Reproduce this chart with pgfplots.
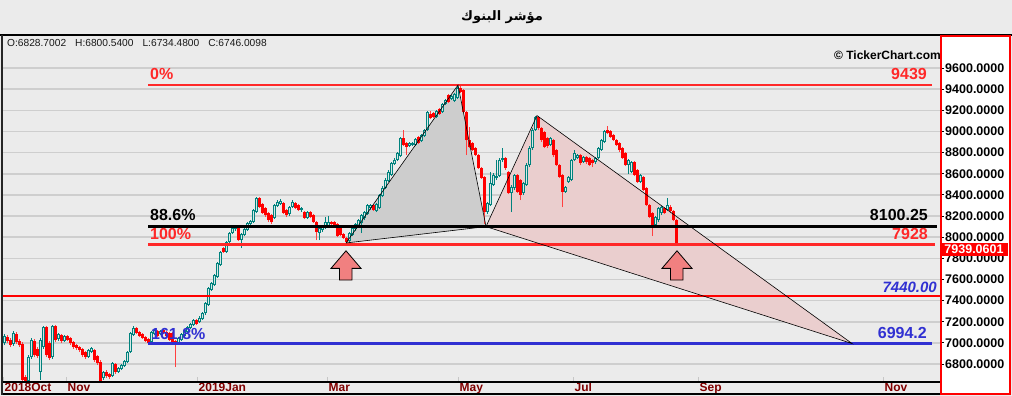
\documentclass[border=0pt]{standalone}
\usepackage{pgfplots}
\pgfplotsset{compat=1.18}
\usepackage{pgfplotstable}
\usepackage{fontspec}
\setmainfont{Liberation Sans}
\newfontfamily\arabicfont[Script=Arabic]{DejaVu Sans}
\TeXXeTstate=1
\definecolor{bgc}{RGB}{235,235,235}
\definecolor{gridc}{RGB}{206,206,206}
\definecolor{upc}{RGB}{0,130,125}
\definecolor{dnc}{RGB}{255,0,0}
\definecolor{lvred}{RGB}{255,40,40}
\definecolor{lvblue}{RGB}{48,48,210}
\definecolor{ticklab}{RGB}{128,0,0}
\definecolor{greyfill}{RGB}{205,205,205}
\definecolor{pinkfill}{RGB}{234,206,206}
\definecolor{arrowc}{RGB}{241,128,128}
\definecolor{hollow}{RGB}{214,232,230}
\pgfplotsset{candle/.style 2 args={forget plot, draw=none, no markers,
  error bars/.cd, y dir=plus, y explicit, error mark=none,
  error bar style={draw=#1, line width=#2}}}

\pgfplotstableread{
x o h l c
4 6998 7083 6979 7064
13 6989 7112 6970 7093
28 6639 6885 6630 6866
31 6866 7045 6847 7027
40 6724 7045 6648 7027
43 6960 7159 6941 7150
52 6866 7169 6847 7159
58 7036 7093 7017 7083
64 7017 7074 7008 7064
88 6866 6941 6856 6932
91 6913 6960 6904 6951
103 6667 6733 6648 6724
112 6686 6818 6676 6809
118 6724 6771 6714 6762
121 6752 6800 6743 6790
124 6781 6837 6771 6828
127 6818 6923 6809 6913
130 6913 7102 6904 7093
133 7074 7159 7064 7140
151 7008 7112 6998 7102
154 7083 7131 7074 7121
160 7083 7121 7074 7112
178 6998 7055 6989 7045
181 7027 7093 7017 7083
184 7064 7131 7055 7121
187 7102 7159 7093 7150
190 7140 7187 7131 7178
193 7169 7225 7159 7216
199 7197 7254 7187 7235
202 7225 7292 7216 7282
205 7282 7386 7263 7377
208 7358 7528 7348 7519
211 7500 7575 7490 7566
214 7547 7651 7537 7642
217 7623 7765 7613 7755
220 7736 7869 7727 7859
226 7859 7963 7850 7954
229 7954 8048 7944 8039
232 8039 8105 8029 8086
235 8077 8115 8058 8105
241 7973 8039 7897 8029
244 8020 8086 8010 8077
247 8067 8143 8058 8133
250 8124 8162 8115 8152
253 8143 8266 8133 8257
256 8238 8379 8228 8370
274 8181 8313 8171 8304
277 8294 8351 8285 8332
280 8313 8360 8304 8342
289 8219 8294 8200 8285
292 8285 8351 8275 8332
301 8257 8285 8238 8275
307 8181 8247 8171 8238
319 8039 8105 7973 8086
322 8067 8115 8048 8095
325 8086 8190 8077 8143
328 8105 8200 8086 8143
349 7963 8048 7944 8039
352 8020 8095 8010 8086
355 8077 8133 8058 8124
358 8105 8171 8095 8162
361 8133 8219 8039 8209
364 8181 8247 8162 8238
367 8219 8313 8209 8304
370 8275 8313 8257 8304
376 8247 8323 8238 8313
379 8275 8408 8266 8398
382 8389 8483 8379 8465
385 8465 8559 8455 8540
388 8531 8635 8521 8616
391 8588 8711 8578 8701
394 8692 8748 8682 8730
397 8730 8805 8720 8796
400 8767 8947 8758 8937
409 8862 8900 8852 8890
412 8871 8900 8862 8890
415 8871 8937 8862 8928
421 8909 8975 8900 8966
424 8956 9023 8947 9013
427 9013 9193 9004 9184
436 9136 9203 9127 9193
442 9184 9269 9174 9259
445 9259 9306 9250 9297
451 9306 9344 9297 9335
454 9288 9363 9278 9354
457 9316 9439 9306 9411
487 8238 8332 8219 8323
490 8304 8616 8294 8512
493 8493 8606 8483 8588
496 8559 8730 8540 8578
499 8578 8748 8569 8730
502 8730 8843 8711 8748
511 8417 8493 8238 8474
514 8465 8597 8446 8588
523 8417 8521 8398 8512
526 8493 8701 8483 8682
529 8682 8862 8663 8843
532 8843 9032 8824 9013
535 9013 9146 9004 9136
550 8871 8947 8862 8937
565 8427 8483 8417 8474
568 8521 8578 8512 8569
571 8540 8739 8531 8730
574 8730 8824 8720 8796
577 8748 8786 8739 8777
583 8711 8767 8701 8758
595 8711 8758 8692 8748
598 8748 8852 8739 8843
601 8824 8928 8815 8919
604 8900 9013 8890 9004
628 8682 8739 8597 8730
631 8616 8720 8606 8711
640 8521 8597 8512 8588
655 8115 8200 8095 8190
658 8162 8285 8143 8275
661 8228 8294 8209 8285
667 8257 8370 8247 8304
}\upcandles

\pgfplotstableread{
x o h l c
7 7055 7074 6998 7017
10 7027 7045 6960 6979
16 7083 7102 6989 7008
19 7017 7036 6960 6979
22 6989 7008 6630 6648
25 6676 6695 6630 6639
34 7017 7036 6866 6885
37 6941 6960 6856 6875
46 7150 7159 6866 6885
49 6998 7017 6837 6856
55 7159 7169 7008 7027
61 7074 7083 6998 7017
67 7064 7074 7017 7027
70 7045 7055 6979 6998
73 7008 7017 6941 6960
76 6979 6989 6932 6951
79 6960 6970 6913 6932
82 6941 6951 6866 6885
85 6913 6923 6847 6866
94 6932 6941 6818 6837
97 6875 6885 6790 6809
100 6818 6837 6630 6635
106 6724 6743 6667 6686
109 6705 6714 6658 6676
115 6800 6809 6705 6724
136 7140 7150 7083 7093
139 7102 7112 7055 7064
142 7083 7093 7036 7045
145 7055 7064 7008 7017
148 7036 7045 6989 6998
157 7112 7121 7055 7064
163 7121 7131 7083 7093
166 7102 7112 7055 7064
169 7093 7102 7017 7027
172 7093 7102 6989 6998
175 7017 7027 6771 6998
196 7216 7225 7169 7178
223 7897 7906 7850 7859
238 8086 8095 7963 7973
259 8370 8379 8275 8285
262 8313 8323 8219 8228
265 8275 8285 8190 8209
268 8228 8238 8143 8162
271 8209 8219 8124 8143
283 8323 8332 8219 8228
286 8257 8266 8190 8209
295 8323 8332 8266 8275
298 8304 8313 8247 8257
304 8238 8247 8171 8181
310 8238 8247 8181 8190
313 8209 8219 8133 8143
316 8143 8152 7973 8048
331 8143 8152 8115 8124
334 8143 8152 8105 8115
337 8124 8133 8001 8010
340 8095 8105 8010 8020
343 8029 8039 7982 7991
346 7991 8001 7944 7954
373 8304 8313 8247 8257
403 8937 9013 8862 8871
406 8890 8900 8777 8852
418 8947 8956 8881 8890
430 9165 9193 9117 9127
433 9174 9184 9127 9136
439 9212 9221 9155 9165
448 9344 9354 9269 9278
460 9411 9439 9363 9373
463 9392 9401 9174 9184
466 9184 9193 8777 8919
469 8919 9042 8843 8852
472 8890 8900 8815 8824
475 8843 8852 8767 8777
478 8777 8786 8644 8654
481 8654 8663 8550 8559
484 8569 8578 8124 8238
505 8748 8758 8635 8654
508 8616 8625 8408 8417
517 8588 8597 8417 8427
520 8540 8550 8351 8398
538 9136 9146 9013 9032
541 9032 9042 8900 8919
544 8994 9004 8843 8852
547 8937 8947 8843 8862
553 8919 8928 8758 8777
556 8824 8833 8673 8682
559 8682 8692 8559 8569
562 8588 8597 8285 8427
580 8777 8786 8682 8701
586 8758 8767 8692 8711
589 8748 8758 8673 8682
592 8730 8739 8663 8701
607 9013 9051 8975 8985
610 9004 9013 8937 8947
613 8966 8975 8909 8919
616 8919 8928 8862 8871
619 8890 8900 8805 8824
622 8843 8852 8739 8748
625 8796 8805 8673 8682
634 8711 8720 8578 8588
637 8635 8644 8512 8521
643 8569 8578 8436 8446
646 8465 8474 8294 8304
649 8304 8313 8181 8190
652 8228 8238 8010 8095
664 8275 8285 8219 8228
670 8285 8304 8228 8247
673 8247 8257 8152 8162
676 8162 8171 7935 7944
}\downcandles

\begin{document}
\begin{tikzpicture}[x=1pt,y=1pt]
\path[use as bounding box] (0,0) rectangle (1012,396);
\fill[bgc] (0,0) rectangle (1012,396);
\fill[white] (941,1.5) rectangle (1010,359.5);
\begin{axis}[
  at={(3pt,14pt)}, anchor=south west, scale only axis,
  width=937pt, height=346pt,
  xmin=3, xmax=940, ymin=6630, ymax=9903, clip=false,
  axis background/.style={fill=bgc},
  axis line style={draw=none},
  ymajorgrids, major grid style={draw=gridc, line width=1.6pt},
  ytick={6800,7000,...,9600}, ytick pos=right, yticklabel pos=right,
  /pgf/number format/fixed, /pgf/number format/fixed zerofill,
  /pgf/number format/precision=4, /pgf/number format/1000 sep={},
  /pgf/number format/assume math mode=true,
  yticklabel style={anchor=west, inner sep=1pt, font=\fontsize{12.5}{14}\selectfont\bfseries, text=black},
  xtick={3,66,197,327,458,573,698,883},
  xticklabels={2018Oct,Nov,2019Jan,Mar,May,Jul,Sep,Nov},
  xtick pos=lower,
  xticklabel style={anchor=north west, inner sep=0pt, xshift=1.5pt, yshift=3pt, text=ticklab, font=\fontsize{12}{14}\selectfont\bfseries},
  tick align=outside, major tick length=4pt,
  every major x tick/.append style={draw=gray!45, line width=1pt, yshift=5pt},
  every major y tick/.append style={draw=black, line width=0.8pt},
]
% pattern fills
\addplot[forget plot, fill=greyfill, draw=none] coordinates {(346,7945) (458,9439) (486,8100)} -- cycle;
\addplot[forget plot, fill=pinkfill, draw=none] coordinates {(486,8100) (537,9150) (852,6994)} -- cycle;

% up candles: wicks, bodies, hollow interior
\addplot[candle={upc}{1pt}] table[x=x, y=l, y error expr=\thisrow{h}-\thisrow{l}] {\upcandles};
\addplot[candle={upc}{3pt}] table[x=x, y=o, y error expr=\thisrow{c}-\thisrow{o}] {\upcandles};
\addplot[candle={hollow}{0.9pt}] table[x=x, y expr=\thisrow{o}+10, y error expr={max(\thisrow{c}-\thisrow{o}-20,0)}] {\upcandles};
% down candles: wicks, bodies
\addplot[candle={dnc!75}{1pt}] table[x=x, y=l, y error expr=\thisrow{h}-\thisrow{l}] {\downcandles};
\addplot[candle={dnc}{3pt}] table[x=x, y=c, y error expr=\thisrow{o}-\thisrow{c}] {\downcandles};

% horizontal levels
\addplot[forget plot, lvred, line width=2.7pt] coordinates {(148,9439) (932,9439)};
\addplot[forget plot, black, line width=3pt] coordinates {(148,8100) (937,8100)};
\addplot[forget plot, lvred, line width=3pt] coordinates {(148,7928) (935,7928)};
\addplot[forget plot, red, line width=2pt] coordinates {(3,7440) (940,7440)};
\addplot[forget plot, lvblue, line width=3pt] coordinates {(148,6994.2) (932,6994.2)};

% pattern outlines
\addplot[forget plot, black, line width=0.6pt] coordinates {(346,7945) (458,9439) (486,8100) (346,7945)};
\addplot[forget plot, black, line width=0.6pt] coordinates {(486,8100) (537,9150) (852,6994) (486,8100)};

% arrows
\addplot[forget plot, fill=arrowc, draw=black, line width=0.8pt] coordinates {(346,7871) (331,7705) (339.5,7705) (339.5,7594) (352,7594) (352,7705) (361,7705)} -- cycle;
\addplot[forget plot, fill=arrowc, draw=black, line width=0.8pt] coordinates {(677,7871) (662,7705) (670.5,7705) (670.5,7594) (683,7594) (683,7705) (692,7705)} -- cycle;

% level labels
\node[anchor=west, text=lvred, font=\fontsize{16}{18}\selectfont\bfseries, inner sep=0pt] at (axis cs:150,9543) {0\%};
\node[anchor=east, text=lvred, font=\fontsize{16}{18}\selectfont\bfseries, inner sep=0pt] at (axis cs:927,9543) {9439};
\node[anchor=west, text=black, font=\fontsize{16}{18}\selectfont\bfseries, inner sep=0pt] at (axis cs:150,8209) {88.6\%};
\node[anchor=east, text=black, font=\fontsize{16}{18}\selectfont\bfseries, inner sep=0pt] at (axis cs:928,8209) {8100.25};
\node[anchor=west, text=lvred, font=\fontsize{16}{18}\selectfont\bfseries, inner sep=0pt] at (axis cs:150,8029) {100\%};
\node[anchor=east, text=lvred, font=\fontsize{16}{18}\selectfont\bfseries, inner sep=0pt] at (axis cs:928,8029) {7928};
\node[anchor=east, text=lvblue, font=\fontsize{15}{18}\selectfont\bfseries\itshape, inner sep=0pt] at (axis cs:937,7528) {7440.00};
\node[anchor=east, text=lvblue, font=\fontsize{16}{18}\selectfont\bfseries, inner sep=0pt] at (axis cs:927,7093) {6994.2};
\node[anchor=west, text=lvblue, font=\fontsize{16}{18}\selectfont\bfseries, inner sep=0pt] at (axis cs:151,7083) {161.8\%};
\end{axis}
% frame lines
\draw[black, line width=2.5pt] (0,361) -- (1012,361);
\draw[black!85, line width=1.8pt] (2.2,1) -- (2.2,361);
\draw[black, line width=1.5pt] (3,14) -- (940,14);
\draw[black, line width=1.5pt] (3,1.8) -- (940,1.8);
\draw[red, line width=2pt] (941,1.5) rectangle (1010,359.5);
% price box
\node[fill=red, text=white, font=\fontsize{12.5}{14}\selectfont\bfseries, minimum width=68pt, minimum height=13pt, inner sep=0pt] at (974,146.5) {7939.0601};
% header texts
\node[anchor=west, inner sep=0pt, font=\fontsize{10.2}{12}\selectfont, text=black!90] at (7,353) {O:6828.7002\hspace{9pt}H:6800.5400\hspace{9pt}L:6734.4800\hspace{9pt}C:6746.0098};
\node[anchor=east, inner sep=0pt, font=\fontsize{12}{14}\selectfont\bfseries] at (941,341) {© TickerChart.com};
\node[font=\arabicfont\bfseries\fontsize{13}{16}\selectfont] at (502,379) {\beginR مؤشر البنوك\endR};
\end{tikzpicture}
\end{document}
